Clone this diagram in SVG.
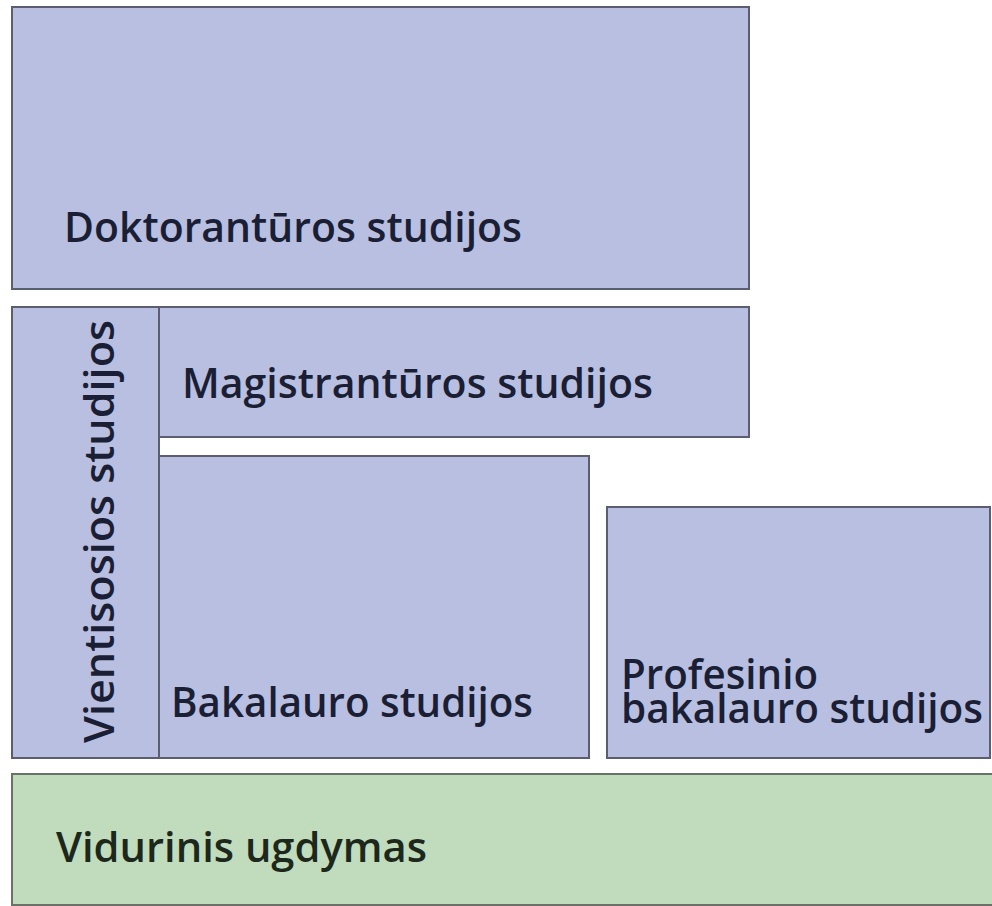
<svg xmlns="http://www.w3.org/2000/svg" width="992" height="906" viewBox="0 0 992 906">
<style>
.box{fill:#b9bfe1;stroke:#5a5e70;stroke-width:2}
.green{fill:#c1dbbd;stroke:#6a7268;stroke-width:2}
.lbl{font-family:"Open Sans","Liberation Sans",sans-serif;font-weight:600;font-size:42px;fill:#1b1f35}
.glbl{fill:#1d281c}
</style>
<rect width="992" height="906" fill="#ffffff"/>
<g id="doktorantura">
<rect class="box" x="12" y="7" width="737" height="282"/>
<text class="lbl" x="64" y="242" textLength="458" lengthAdjust="spacingAndGlyphs">Doktorantūros studijos</text>
</g>
<g id="vientisosios">
<rect class="box" x="12" y="307" width="147" height="451"/>
<text class="lbl" transform="translate(114,743) rotate(-90)" x="0" y="0" textLength="423" lengthAdjust="spacingAndGlyphs">Vientisosios studijos</text>
</g>
<g id="magistrantura">
<rect class="box" x="159" y="307" width="590" height="130"/>
<text class="lbl" x="182" y="398" textLength="471" lengthAdjust="spacingAndGlyphs">Magistrantūros studijos</text>
</g>
<g id="bakalauras">
<rect class="box" x="159" y="456" width="430" height="302"/>
<text class="lbl" x="171" y="717" textLength="362" lengthAdjust="spacingAndGlyphs">Bakalauro studijos</text>
</g>
<g id="profesinis">
<rect class="box" x="607" y="507" width="383" height="251"/>
<text class="lbl" font-size="41"><tspan x="621" y="689" textLength="197" lengthAdjust="spacingAndGlyphs">Profesinio</tspan><tspan x="621" y="723" textLength="362" lengthAdjust="spacingAndGlyphs">bakalauro studijos</tspan></text>
</g>
<g id="vidurinis">
<rect class="green" x="12" y="774" width="990" height="131"/>
<text class="lbl glbl" x="56" y="862" textLength="371" lengthAdjust="spacingAndGlyphs">Vidurinis ugdymas</text>
</g>
<g id="connectors"></g>
</svg>
